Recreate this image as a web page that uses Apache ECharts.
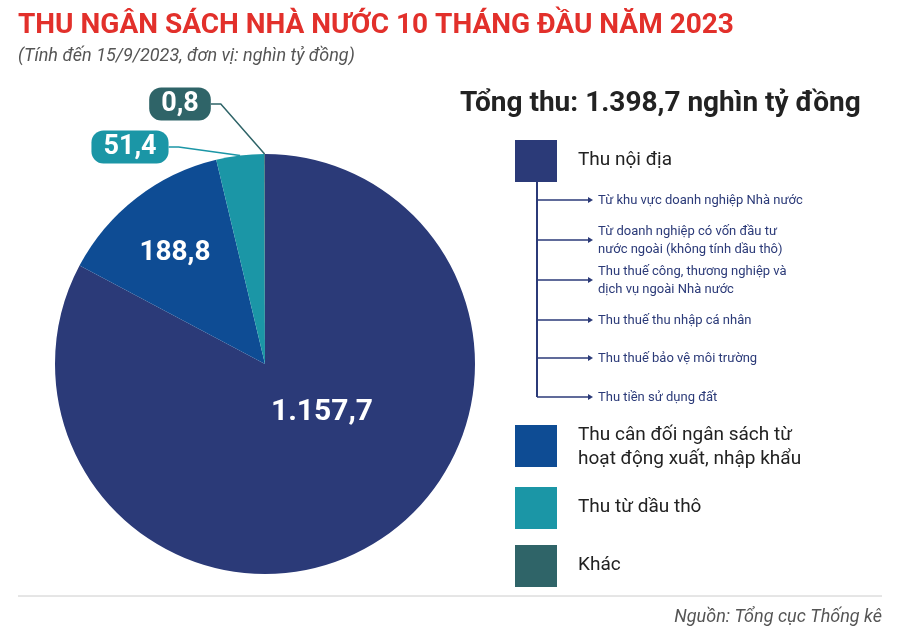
<!DOCTYPE html><html><head><meta charset="utf-8"><script src="https://cdn.jsdelivr.net/npm/echarts@6/dist/echarts.min.js"></script>
<style>body{margin:0}#c{width:900px;height:636px}</style></head><body><div id="c"></div><script>
const categories=['Thu nội địa','Thu cân đối ngân sách từ hoạt động xuất, nhập khẩu','Thu từ dầu thô','Khác'];
const values=[1157.7,188.8,51.4,0.8];
const labels=['1.157,7','188,8','51,4','0,8'];
const colors=['#2b3a78','#0e4c94','#1b96a6','#2f6468'];
const subItems=['Từ khu vực doanh nghiệp Nhà nước','Từ doanh nghiệp có vốn đầu tư\nnước ngoài (không tính dầu thô)','Thu thuế công, thương nghiệp và\ndịch vụ ngoài Nhà nước','Thu thuế thu nhập cá nhân','Thu thuế bảo vệ môi trường','Thu tiền sử dụng đất'];
const subY=[200,240,280,320,358,397];
const F='Roboto';
const chart=echarts.init(document.getElementById('c'));
const g=[];
g.push({type:'text',left:18,top:12,style:{text:'THU NGÂN SÁCH NHÀ NƯỚC 10 THÁNG ĐẦU NĂM 2023',font:'bold 28px '+F,fill:'#e2302b'}});
g.push({type:'text',left:18,top:47,style:{text:'(Tính đến 15/9/2023, đơn vị: nghìn tỷ đồng)',font:'italic 18px '+F,fill:'#555'}});
g.push({type:'text',left:460,top:90,style:{text:'Tổng thu: 1.398,7 nghìn tỷ đồng',font:'bold 28px '+F,fill:'#222'}});
const legY=[140,425,487,545];
const legTxt=['Thu nội địa','Thu cân đối ngân sách từ\nhoạt động xuất, nhập khẩu','Thu từ dầu thô','Khác'];
legY.forEach((y,i)=>{g.push({type:'rect',shape:{x:515,y:y,width:42,height:42},style:{fill:colors[i]}});
g.push({type:'text',left:578,top:i==1?y-2:y+8,style:{text:legTxt[i],font:'19px '+F,fill:'#222',lineHeight:24}});});
g.push({type:'line',shape:{x1:537,y1:182,x2:537,y2:397},style:{stroke:'#2b3a78',lineWidth:2}});
subItems.forEach((t,i)=>{const y=subY[i];
g.push({type:'line',shape:{x1:537,y1:y,x2:588,y2:y},style:{stroke:'#2b3a78',lineWidth:1.5}});
g.push({type:'polygon',shape:{points:[[588,y-3],[593,y],[588,y+3]]},style:{fill:'#2b3a78'}});
const two=t.includes('\n');
g.push({type:'text',left:598,top:two?y-17:y-8,style:{text:t,font:'13px '+F,fill:'#2b3a78',lineHeight:18}});});
g.push({type:'line',shape:{x1:18,y1:596,x2:882,y2:596},style:{stroke:'#ccc',lineWidth:1}});
g.push({type:'text',right:18,top:608,style:{text:'Nguồn: Tổng cục Thống kê',font:'italic 18px '+F,fill:'#555',align:'right'}});
const data=values.map((v,i)=>{const d={value:v,name:categories[i],itemStyle:{color:colors[i]}};
if(i<2){d.label={position:'inside',formatter:labels[i],fontSize:i==0?30:28,fontWeight:'bold',color:'#fff',fontFamily:F};d.labelLine={show:false};}
else{d.label={position:'outside',formatter:labels[i],fontSize:27,fontWeight:'bold',color:'#fff',fontFamily:F,backgroundColor:colors[i],borderRadius:12,padding:[3,12]};
d.labelLine={show:true,lineStyle:{color:colors[i],width:1.5},length:10,length2:10};}
return d;});
chart.setOption({graphic:g,series:[{type:'pie',center:[265,364],radius:[0,210],startAngle:90,clockwise:true,data:data,
labelLayout:function(p){if(p.dataIndex==2)return{x:130,y:147,align:'center'};if(p.dataIndex==3)return{x:180,y:104,align:'center'};if(p.dataIndex==1)return{x:175,y:253};if(p.dataIndex==0)return{x:322,y:412};},
emphasis:{disabled:true}}]});
</script></body></html>
